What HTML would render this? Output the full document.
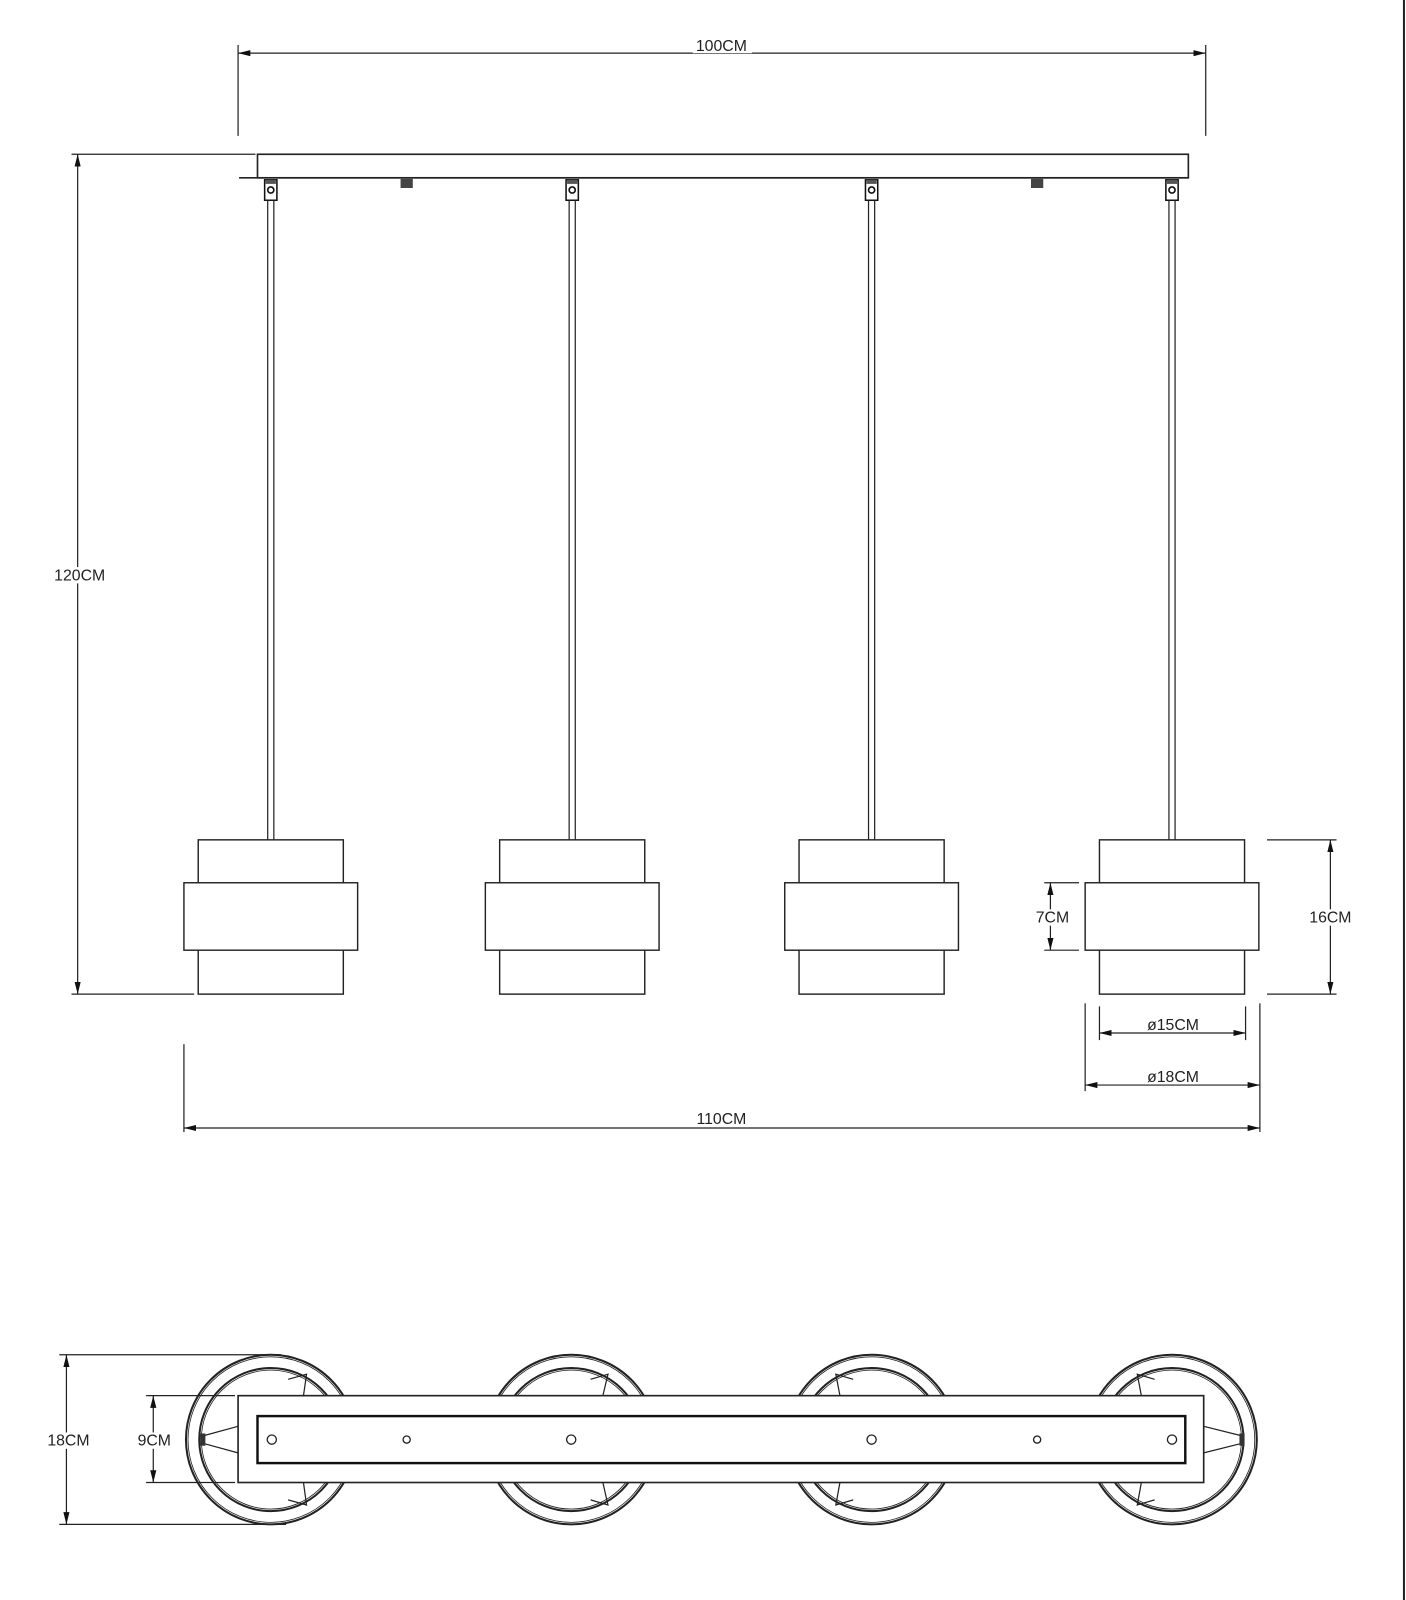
<!DOCTYPE html>
<html><head><meta charset="utf-8"><style>
html,body{margin:0;padding:0;background:#fff;}
svg{display:block;}
text{font-family:"Liberation Sans",sans-serif;font-size:15.5px;fill:#222;}
</style></head><body>
<svg width="1406" height="1600" viewBox="0 0 1376 1566" preserveAspectRatio="none" xmlns="http://www.w3.org/2000/svg">
<defs>
<marker id="a" viewBox="0 0 12 6" refX="12" refY="3" markerWidth="12" markerHeight="6" orient="auto-start-reverse" markerUnits="userSpaceOnUse"><path d="M0,0 L12,3 L0,6 z" fill="#111"/></marker>
<g id="hook">
<rect x="-6" y="2" width="12" height="20" fill="#fff" stroke="#111" stroke-width="1.5"/>
<rect x="-5" y="2" width="10" height="4" fill="#555"/>
<circle cx="0" cy="12" r="3" fill="none" stroke="#111" stroke-width="1.6"/>
<line x1="-3" y1="22" x2="-3" y2="648" stroke="#222" stroke-width="1.2"/>
<line x1="3" y1="22" x2="3" y2="648" stroke="#222" stroke-width="1.2"/>
</g>
<g id="shade">
<rect x="-71" y="822" width="142" height="151" fill="#fff" stroke="#222" stroke-width="1.4"/>
<rect x="-85" y="864" width="170" height="66" fill="#fff" stroke="#222" stroke-width="1.4"/>
</g>
<g id="ring" fill="none" stroke="#222">
<circle r="83" stroke-width="2"/>
<circle r="81" stroke-width="0.8"/>
<circle r="70" stroke-width="2"/>
<circle r="68" stroke-width="0.8"/>
</g>
</defs>
<g stroke="#222" stroke-width="1.2" fill="none">
<line x1="1374" y1="0" x2="1374" y2="1566" stroke-width="2"/>
<line x1="233" y1="44" x2="233" y2="133"/>
<line x1="1180" y1="44" x2="1180" y2="133"/>
<line x1="233" y1="52" x2="1180" y2="52" marker-start="url(#a)" marker-end="url(#a)"/>
<line x1="70" y1="151" x2="250" y2="151"/>
<line x1="70" y1="973" x2="190" y2="973"/>
<line x1="76" y1="151" x2="76" y2="973" marker-start="url(#a)" marker-end="url(#a)"/>
<rect x="252" y="151" width="911" height="23" stroke-width="1.6" fill="#fff"/>
<line x1="234" y1="174" x2="1163" y2="174" stroke-width="1.6"/>
</g>
<rect x="392" y="175" width="12" height="9" fill="#444"/>
<rect x="1009" y="175" width="12" height="9" fill="#444"/>
<use href="#hook" x="265" y="174"/>
<use href="#hook" x="560" y="174"/>
<use href="#hook" x="853" y="174"/>
<use href="#hook" x="1147" y="174"/>
<use href="#shade" x="265"/>
<use href="#shade" x="560"/>
<use href="#shade" x="853"/>
<use href="#shade" x="1147"/>
<g stroke="#222" stroke-width="1.2" fill="none">
<line x1="1240" y1="822" x2="1308" y2="822"/>
<line x1="1240" y1="973" x2="1308" y2="973"/>
<line x1="1302" y1="822" x2="1302" y2="973" marker-start="url(#a)" marker-end="url(#a)"/>
<line x1="1022" y1="864" x2="1056" y2="864"/>
<line x1="1022" y1="930" x2="1056" y2="930"/>
<line x1="1028" y1="864" x2="1028" y2="930" marker-start="url(#a)" marker-end="url(#a)"/>
<line x1="1076" y1="985" x2="1076" y2="1018"/>
<line x1="1219" y1="985" x2="1219" y2="1018"/>
<line x1="1076" y1="1011" x2="1219" y2="1011" marker-start="url(#a)" marker-end="url(#a)"/>
<line x1="1062" y1="982" x2="1062" y2="1068"/>
<line x1="1233" y1="982" x2="1233" y2="1108"/>
<line x1="1062" y1="1062" x2="1233" y2="1062" marker-start="url(#a)" marker-end="url(#a)"/>
<line x1="180" y1="1022" x2="180" y2="1108"/>
<line x1="180" y1="1104" x2="1233" y2="1104" marker-start="url(#a)" marker-end="url(#a)"/>
<line x1="58" y1="1326" x2="275" y2="1326"/>
<line x1="58" y1="1492" x2="280" y2="1492"/>
<line x1="65" y1="1326" x2="65" y2="1492" marker-start="url(#a)" marker-end="url(#a)"/>
<line x1="143" y1="1366" x2="230" y2="1366"/>
<line x1="143" y1="1451" x2="230" y2="1451"/>
<line x1="150" y1="1366" x2="150" y2="1451" marker-start="url(#a)" marker-end="url(#a)"/>
</g>
<use href="#ring" x="265" y="1409"/>
<use href="#ring" x="559" y="1409"/>
<use href="#ring" x="853" y="1409"/>
<use href="#ring" x="1147" y="1409"/>
<g stroke="#222" stroke-width="1.2" fill="none">
<path d="M282,1350 L300,1345 L297,1366 M282,1468 L300,1473 L297,1451"/>
<path d="M578,1350 L595,1345 L590,1366 M578,1468 L595,1473 L590,1451"/>
<path d="M835,1350 L818,1345 L822,1366 M835,1468 L818,1473 L822,1451"/>
<path d="M1130,1350 L1113,1345 L1117,1366 M1130,1468 L1113,1473 L1117,1451"/>
<path d="M200,1405 L233,1396 M200,1413 L233,1422"/>
<path d="M1214,1405 L1178,1396 M1214,1413 L1178,1422"/>
</g>
<rect x="196" y="1403" width="5" height="12" fill="#333"/>
<rect x="1213" y="1403" width="5" height="12" fill="#333"/>
<rect x="233" y="1366" width="945" height="85" fill="#fff" stroke="#222" stroke-width="1.6"/>
<rect x="252" y="1386" width="908" height="46" fill="#fff" stroke="#111" stroke-width="2.4"/>
<g fill="none" stroke="#222" stroke-width="1.3">
<circle cx="266" cy="1409" r="4.5"/>
<circle cx="398" cy="1409" r="3.5"/>
<circle cx="559" cy="1409" r="4.5"/>
<circle cx="853" cy="1409" r="4.5"/>
<circle cx="1015" cy="1409" r="3.5"/>
<circle cx="1147" cy="1409" r="4.5"/>
</g>
<g text-anchor="middle">
<rect x="678" y="38" width="58" height="14" fill="#fff"/>
<text x="706" y="50">100CM</text>
<rect x="48" y="555" width="60" height="16" fill="#fff"/>
<text x="78" y="568">120CM</text>
<rect x="678" y="1088" width="58" height="14" fill="#fff"/>
<text x="706" y="1100">110CM</text>
<rect x="1276" y="890" width="54" height="16" fill="#fff"/>
<text x="1302" y="903">16CM</text>
<rect x="1009" y="890" width="42" height="16" fill="#fff"/>
<text x="1030" y="903">7CM</text>
<text x="1148" y="1008">ø15CM</text>
<text x="1148" y="1059">ø18CM</text>
<rect x="42" y="1402" width="48" height="16" fill="#fff"/>
<text x="67" y="1415">18CM</text>
<rect x="130" y="1402" width="42" height="16" fill="#fff"/>
<text x="151" y="1415">9CM</text>
</g>
</svg>
</body></html>
